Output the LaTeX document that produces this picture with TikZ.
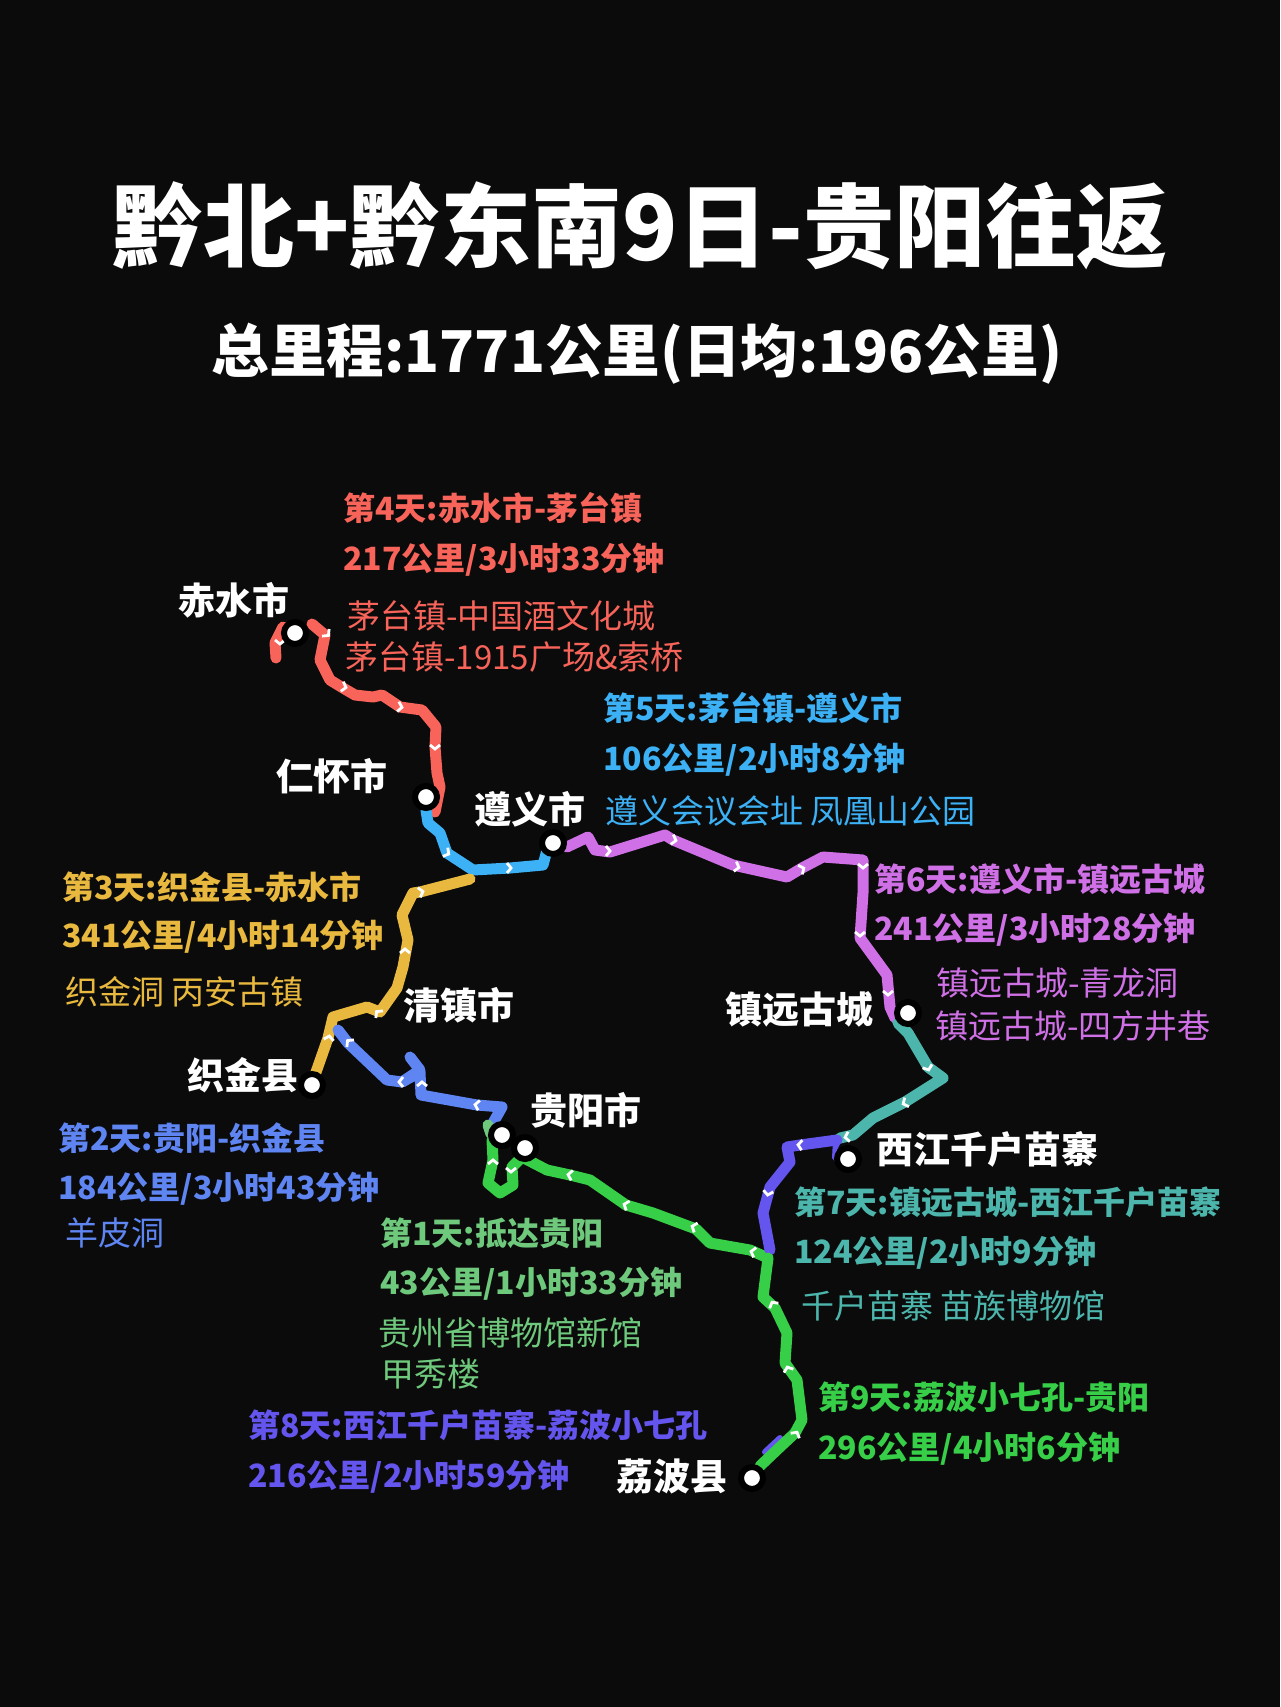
\documentclass[tikz,border=0pt]{standalone}
\usepackage{fontspec}
\setmainfont{Noto Sans CJK SC}
\definecolor{bgdark}{HTML}{0B0B0B}
\definecolor{redroute}{HTML}{F8645A}
\definecolor{blueroute}{HTML}{3DB1F5}
\definecolor{yellowroute}{HTML}{E8B93E}
\definecolor{periroute}{HTML}{5E85F2}
\definecolor{pinkroute}{HTML}{CF70E6}
\definecolor{tealroute}{HTML}{4DB6AC}
\definecolor{indigoroute}{HTML}{6455EE}
\definecolor{greenroute}{HTML}{37CE48}
\definecolor{paleroute}{HTML}{6FC97C}
\tikzset{
  route/.style={line width=5.5pt,line join=round,line cap=round},
  chevron/.style={white,line width=1.4pt,line join=miter},
  stopdot/.style={circle,fill=white,draw=black,line width=3pt,minimum size=11pt,inner sep=0pt},
  place/.style={anchor=west,inner sep=0pt,white,font=\fontsize{18.5}{20}\selectfont\bfseries},
  dayline/.style={anchor=west,inner sep=0pt,font=\fontsize{16}{18}\selectfont\bfseries},
  spotline/.style={anchor=west,inner sep=0pt,font=\fontsize{16.5}{18}\selectfont},
}
\begin{document}
\begin{tikzpicture}[x=0.5pt,y=-0.5pt]
    \fill[bgdark] (0,0) rectangle (1280,1707);
    \useasboundingbox (0,0) rectangle (1280,1707);

    \node[white,font=\fontsize{45.5}{48}\selectfont\bfseries] (title) at (640,226) {黔北+黔东南9日-贵阳往返};
    \node[white,font=\fontsize{28.8}{32}\selectfont\bfseries] (subtitle) at (637,354) {总里程:1771公里(日均:196公里)};

    % day 4
    \draw[route,redroute] (276,658) -- (275,643) -- (283,627);
    \draw[route,redroute] (312,624) -- (325,635) -- (320,660) -- (330,680) -- (343,688) -- (355,695) -- (373,697) -- (382,695) -- (400,707) -- (422,710) -- (436,727) -- (435,747) -- (437,773) -- (440,787) -- (435,812);
    % day 5
    \draw[route,blueroute] (426,810) -- (428,823) -- (440,833) -- (447,853) -- (473,870) -- (510,868) -- (543,865) -- (547,850);
    % day 3
    \draw[route,yellowroute] (470,879) -- (420,892) -- (413,893) -- (402,915) -- (408,940) -- (403,967) -- (397,988) -- (380,1012) -- (367,1007) -- (333,1017) -- (328,1038) -- (315,1075);
    % day 2
    \draw[route,periroute] (338,1030) -- (348,1043) -- (387,1080) -- (402,1082) -- (420,1070) -- (410,1057);
    \draw[route,periroute] (402,1082) -- (420,1072) -- (421,1095) -- (477,1105) -- (502,1107) -- (493,1123);
    % day 1
    \draw[route,paleroute] (488,1125) -- (491,1134);
    \draw[route,greenroute] (492,1140) -- (493,1160) -- (488,1183) -- (500,1193) -- (513,1185) -- (512,1167) -- (522,1157) -- (547,1170) -- (570,1175) -- (590,1180) -- (626,1205) -- (653,1213) -- (696,1229) -- (710,1243) -- (750,1250) -- (768,1258);
    % day 6
    \draw[route,pinkroute] (567,847) -- (588,837) -- (595,850) -- (610,852) -- (665,835) -- (673,840) -- (733,865) -- (787,877) -- (802,868) -- (823,857) -- (863,860) -- (863,893) -- (860,938) -- (887,975) -- (890,1007) -- (895,1018);
    % day 7
    \draw[route,tealroute] (898,1023) -- (908,1033) -- (928,1067) -- (943,1078) -- (905,1102) -- (873,1118) -- (853,1135) -- (840,1138);
    % day 8
    \draw[indigoroute,line width=3pt,line cap=round] (780,1438) -- (765,1452);
    \draw[route,indigoroute] (837,1140) -- (800,1145) -- (787,1147) -- (790,1162) -- (770,1187) -- (763,1213) -- (770,1250);
    \fill[indigoroute] (833,1140) -- (842,1140) -- (837,1150) -- (840,1168) -- (832,1158) -- cycle;
    % day 9
    \draw[route,greenroute] (768,1258) -- (763,1297) -- (775,1308) -- (787,1333) -- (785,1363) -- (797,1380) -- (802,1420) -- (795,1433) -- (780,1447) -- (760,1466);

    \foreach \px/\py/\ang in {280/642/-90,327/634/-45,344/687/-15,400/707/-10,435/747/-90,
        447/853/-30,509/868/0,
        421/892/15,405/951/90,378/1013/135,329/1038/80,
        349/1042/135,401/1082/180,422/1084/90,477/1105/170,
        493/1162/90,511/1170/-90,570/1175/170,626/1205/160,694/1227/160,
        608/851/0,674/840/-15,737/867/-15,802/869/25,863/866/-90,860/934/-90,888/993/-90,
        928/1068/-70,905/1103/205,847/1137/190,
        800/1145/175,768/1193/-100,
        753/1252/165,773/1304/120,788/1369/110,796/1434/60}
        \draw[chevron,shift={(\px,\py)},rotate=\ang] (-2,-5) -- (2,0) -- (-2,5);

    \node[stopdot] (chishui) at (295,633) {};
    \node[stopdot] (renhuai) at (426,797) {};
    \node[stopdot] (zunyi) at (553,843) {};
    \node[stopdot] (zhijin) at (312,1085) {};
    \node[stopdot] (guiyang) at (502,1135) {};
    \node[stopdot] (guiyangb) at (525,1148) {};
    \node[stopdot] (zhenyuan) at (908,1013) {};
    \node[stopdot] (xijiang) at (848,1159) {};
    \node[stopdot] (libo) at (752,1478) {};

    \node[place] (nchishui) at (178,600) {赤水市};
    \node[place] (nrenhuai) at (276,776) {仁怀市};
    \node[place] (nzunyi) at (474,809) {遵义市};
    \node[place] (nqingzhen) at (403,1005) {清镇市};
    \node[place] (nzhijin) at (187,1075) {织金县};
    \node[place] (nguiyang) at (530,1110) {贵阳市};
    \node[place] (nzhenyuan) at (725,1009) {镇远古城};
    \node[place] (nxijiang) at (876,1149) {西江千户苗寨};
    \node[place] (nlibo) at (616,1476) {荔波县};

    \node[dayline,redroute] (dayd) at (343,508) {第4天:赤水市-茅台镇};
    \node[dayline,redroute] (distd) at (343,560) {217公里/3小时33分钟};
    \node[spotline,redroute] (spotd) at (347,616) {茅台镇-中国酒文化城};
    \node[spotline,redroute] (spotdb) at (345,657) {茅台镇-1915广场\&索桥};

    \node[dayline,blueroute] (daye) at (603,708) {第5天:茅台镇-遵义市};
    \node[dayline,blueroute] (diste) at (603,760) {106公里/2小时8分钟};
    \node[spotline,blueroute] (spote) at (605,811) {遵义会议会址 凤凰山公园};

    \node[dayline,yellowroute] (dayc) at (62,887) {第3天:织金县-赤水市};
    \node[dayline,yellowroute] (distc) at (62,937) {341公里/4小时14分钟};
    \node[spotline,yellowroute] (spotc) at (65,992) {织金洞 丙安古镇};

    \node[dayline,pinkroute] (dayf) at (874,879) {第6天:遵义市-镇远古城};
    \node[dayline,pinkroute] (distf) at (874,930) {241公里/3小时28分钟};
    \node[spotline,pinkroute] (spotf) at (936,983) {镇远古城-青龙洞};
    \node[spotline,pinkroute] (spotfb) at (935,1026) {镇远古城-四方井巷};

    \node[dayline,periroute] (dayb) at (58,1138) {第2天:贵阳-织金县};
    \node[dayline,periroute] (distb) at (58,1189) {184公里/3小时43分钟};
    \node[spotline,periroute] (spotb) at (65,1233) {羊皮洞};

    \node[dayline,paleroute] (daya) at (380,1233) {第1天:抵达贵阳};
    \node[dayline,paleroute] (dista) at (380,1284) {43公里/1小时33分钟};
    \node[spotline,paleroute] (spota) at (378,1333) {贵州省博物馆新馆};
    \node[spotline,paleroute] (spotab) at (381,1374) {甲秀楼};

    \node[dayline,tealroute] (dayg) at (794,1202) {第7天:镇远古城-西江千户苗寨};
    \node[dayline,tealroute] (distg) at (794,1253) {124公里/2小时9分钟};
    \node[spotline,tealroute] (spotg) at (801,1306) {千户苗寨 苗族博物馆};

    \node[dayline,indigoroute] (dayh) at (248,1425) {第8天:西江千户苗寨-荔波小七孔};
    \node[dayline,indigoroute] (disth) at (248,1477) {216公里/2小时59分钟};

    \node[dayline,greenroute] (dayi) at (818,1397) {第9天:荔波小七孔-贵阳};
    \node[dayline,greenroute] (disti) at (818,1449) {296公里/4小时6分钟};
\end{tikzpicture}
\end{document}
